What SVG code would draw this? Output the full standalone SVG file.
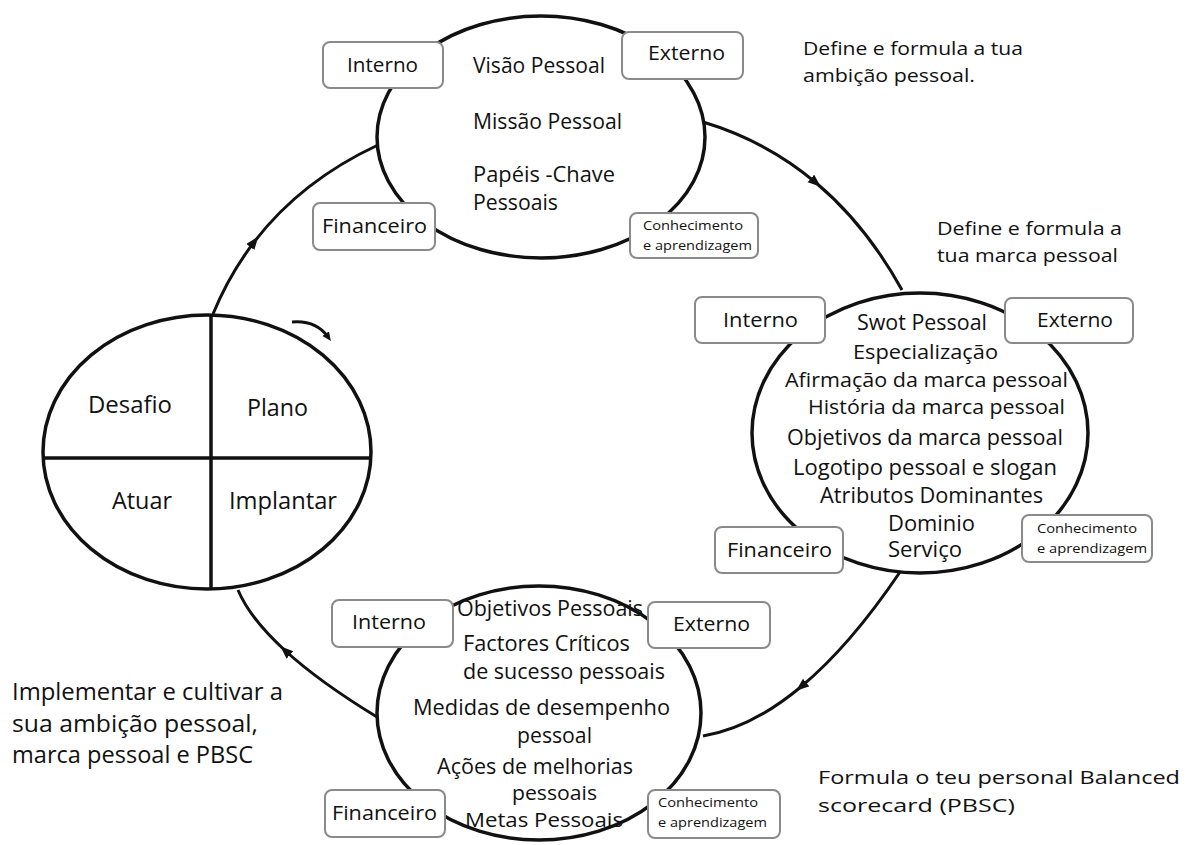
<svg xmlns="http://www.w3.org/2000/svg" width="1191" height="845" viewBox="0 0 1191 845">
<style>
.ell{fill:#fff;stroke:#111;stroke-width:3.5}
.box{fill:#fff;stroke:#8a8a8a;stroke-width:2}
.con{fill:none;stroke:#111;stroke-width:3}
text{font-family:"Open Sans","Noto Sans",sans-serif;fill:#111}
.t{font-size:21px}
.r{font-size:20px}
.b{font-size:20px}
.s{font-size:13px}
.o{font-size:19px}
.l{font-size:23px}
</style>
<defs>
<marker id="ah" markerWidth="14" markerHeight="12" refX="7" refY="5" orient="auto" markerUnits="userSpaceOnUse">
<path d="M0,0 L13,5 L0,10 z" fill="#111"/>
</marker>
<marker id="ah2" markerWidth="12" markerHeight="10" refX="4" refY="4" orient="auto" markerUnits="userSpaceOnUse">
<path d="M0,0 L9,4 L0,8 z" fill="#111"/>
</marker>
</defs>

<g id="connectors">
<path class="con" marker-mid="url(#ah)" d="M213,314 Q229.45,274.1 254.6,241.4 Q301.3,180.75 378,145"/>
<path class="con" marker-mid="url(#ah)" d="M703,122 Q766.5,141 816.25,183 Q866,225 902,290"/>
<path class="con" marker-mid="url(#ah)" d="M900,572 Q850,646 800.75,687 Q751.5,728 703,736"/>
<path class="con" marker-mid="url(#ah)" d="M377,717 Q319.5,682 284.75,650.25 Q250,618.5 238,590"/>
<path class="con" marker-end="url(#ah2)" stroke-width="2.5" d="M292,322 Q316,320 328,337"/>
</g>

<g id="pdca">
<ellipse class="ell" cx="207" cy="452" rx="164" ry="137"/>
<line x1="43" y1="458" x2="371" y2="458" stroke="#111" stroke-width="3.5"/>
<line x1="211" y1="315" x2="211" y2="589" stroke="#111" stroke-width="3.5"/>
<text class="l" x="88" y="413" textLength="84" lengthAdjust="spacingAndGlyphs">Desafio</text>
<text class="l" x="247" y="416" textLength="61" lengthAdjust="spacingAndGlyphs">Plano</text>
<text class="l" x="112" y="509" textLength="60" lengthAdjust="spacingAndGlyphs">Atuar</text>
<text class="l" x="229" y="509" textLength="108" lengthAdjust="spacingAndGlyphs">Implantar</text>
</g>

<g id="ambicao">
<ellipse class="ell" cx="541" cy="137" rx="164" ry="121"/>
<text class="t" x="473" y="73" textLength="132" lengthAdjust="spacingAndGlyphs">Visão Pessoal</text>
<text class="t" x="473" y="129" textLength="149" lengthAdjust="spacingAndGlyphs">Missão Pessoal</text>
<text class="t" x="473" y="182" textLength="142" lengthAdjust="spacingAndGlyphs">Papéis -Chave</text>
<text class="t" x="473" y="210" textLength="85" lengthAdjust="spacingAndGlyphs">Pessoais</text>
</g>
<g id="ambicao-interno"><rect class="box" x="323" y="42" width="120" height="46" rx="7"/><text class="b" x="347" y="72" textLength="71" lengthAdjust="spacingAndGlyphs">Interno</text></g>
<g id="ambicao-externo"><rect class="box" x="622" y="32" width="121" height="47" rx="7"/><text class="b" x="648" y="60" textLength="77" lengthAdjust="spacingAndGlyphs">Externo</text></g>
<g id="ambicao-financeiro"><rect class="box" x="313" y="203" width="122" height="47" rx="7"/><text class="b" x="322" y="233" textLength="105" lengthAdjust="spacingAndGlyphs">Financeiro</text></g>
<g id="ambicao-conhecimento"><rect class="box" x="630" y="213" width="128" height="45" rx="7"/><text class="s" x="643" y="230" textLength="100" lengthAdjust="spacingAndGlyphs">Conhecimento</text><text class="s" x="643" y="250" textLength="109" lengthAdjust="spacingAndGlyphs">e aprendizagem</text></g>

<g id="marca">
<ellipse class="ell" cx="920" cy="433" rx="168" ry="140"/>
<text class="t" x="857" y="330" textLength="130" lengthAdjust="spacingAndGlyphs">Swot Pessoal</text>
<text class="r" x="853" y="359" textLength="145" lengthAdjust="spacingAndGlyphs">Especialização</text>
<text class="r" x="785" y="387" textLength="283" lengthAdjust="spacingAndGlyphs">Afirmação da marca pessoal</text>
<text class="r" x="808" y="414" textLength="257" lengthAdjust="spacingAndGlyphs">História da marca pessoal</text>
<text class="t" x="787" y="445" textLength="276" lengthAdjust="spacingAndGlyphs">Objetivos da marca pessoal</text>
<text class="t" x="793" y="475" textLength="264" lengthAdjust="spacingAndGlyphs">Logotipo pessoal e slogan</text>
<text class="t" x="820" y="503" textLength="223" lengthAdjust="spacingAndGlyphs">Atributos Dominantes</text>
<text class="t" x="888" y="531" textLength="87" lengthAdjust="spacingAndGlyphs">Dominio</text>
<text class="t" x="888" y="557" textLength="74" lengthAdjust="spacingAndGlyphs">Serviço</text>
</g>
<g id="marca-interno"><rect class="box" x="695" y="297" width="130" height="46" rx="7"/><text class="b" x="723" y="327" textLength="75" lengthAdjust="spacingAndGlyphs">Interno</text></g>
<g id="marca-externo"><rect class="box" x="1005" y="298" width="128" height="45" rx="7"/><text class="b" x="1037" y="327" textLength="76" lengthAdjust="spacingAndGlyphs">Externo</text></g>
<g id="marca-financeiro"><rect class="box" x="715" y="527" width="128" height="46" rx="7"/><text class="b" x="727" y="557" textLength="105" lengthAdjust="spacingAndGlyphs">Financeiro</text></g>
<g id="marca-conhecimento"><rect class="box" x="1022" y="515" width="130" height="47" rx="7"/><text class="s" x="1037" y="533" textLength="100" lengthAdjust="spacingAndGlyphs">Conhecimento</text><text class="s" x="1037" y="553" textLength="110" lengthAdjust="spacingAndGlyphs">e aprendizagem</text></g>

<g id="pbsc">
<ellipse class="ell" cx="539" cy="713" rx="162" ry="127"/>
<text class="t" x="457" y="616" textLength="186" lengthAdjust="spacingAndGlyphs">Objetivos Pessoais</text>
<text class="t" x="463" y="651" textLength="167" lengthAdjust="spacingAndGlyphs">Factores Críticos</text>
<text class="t" x="463" y="679" textLength="202" lengthAdjust="spacingAndGlyphs">de sucesso pessoais</text>
<text class="t" x="413" y="715" textLength="257" lengthAdjust="spacingAndGlyphs">Medidas de desempenho</text>
<text class="t" x="517" y="743" textLength="75" lengthAdjust="spacingAndGlyphs">pessoal</text>
<text class="t" x="437" y="774" textLength="196" lengthAdjust="spacingAndGlyphs">Ações de melhorias</text>
<text class="r" x="512" y="800" textLength="85" lengthAdjust="spacingAndGlyphs">pessoais</text>
<text class="r" x="465" y="827" textLength="158" lengthAdjust="spacingAndGlyphs">Metas Pessoais</text>
</g>
<g id="pbsc-interno"><rect class="box" x="332" y="600" width="121" height="47" rx="7"/><text class="b" x="352" y="629" textLength="74" lengthAdjust="spacingAndGlyphs">Interno</text></g>
<g id="pbsc-externo"><rect class="box" x="648" y="602" width="122" height="46" rx="7"/><text class="b" x="673" y="631" textLength="77" lengthAdjust="spacingAndGlyphs">Externo</text></g>
<g id="pbsc-financeiro"><rect class="box" x="325" y="790" width="120" height="47" rx="7"/><text class="b" x="332" y="820" textLength="105" lengthAdjust="spacingAndGlyphs">Financeiro</text></g>
<g id="pbsc-conhecimento"><rect class="box" x="648" y="790" width="132" height="48" rx="7"/><text class="s" x="658" y="807" textLength="100" lengthAdjust="spacingAndGlyphs">Conhecimento</text><text class="s" x="658" y="827" textLength="109" lengthAdjust="spacingAndGlyphs">e aprendizagem</text></g>

<g id="labels">
<text class="o" x="803" y="55" textLength="220" lengthAdjust="spacingAndGlyphs">Define e formula a tua</text>
<text class="o" x="803" y="82" textLength="172" lengthAdjust="spacingAndGlyphs">ambição pessoal.</text>
<text class="o" x="937" y="235" textLength="185" lengthAdjust="spacingAndGlyphs">Define e formula a</text>
<text class="o" x="937" y="262" textLength="181" lengthAdjust="spacingAndGlyphs">tua marca pessoal</text>
<text class="l" x="12" y="700" textLength="271" lengthAdjust="spacingAndGlyphs">Implementar e cultivar a</text>
<text class="l" x="12" y="732" textLength="246" lengthAdjust="spacingAndGlyphs">sua ambição pessoal,</text>
<text class="l" x="12" y="763" textLength="241" lengthAdjust="spacingAndGlyphs">marca pessoal e PBSC</text>
<text class="o" x="818" y="784" textLength="362" lengthAdjust="spacingAndGlyphs">Formula o teu personal Balanced</text>
<text class="o" x="818" y="812" textLength="197" lengthAdjust="spacingAndGlyphs">scorecard (PBSC)</text>
</g>
</svg>
